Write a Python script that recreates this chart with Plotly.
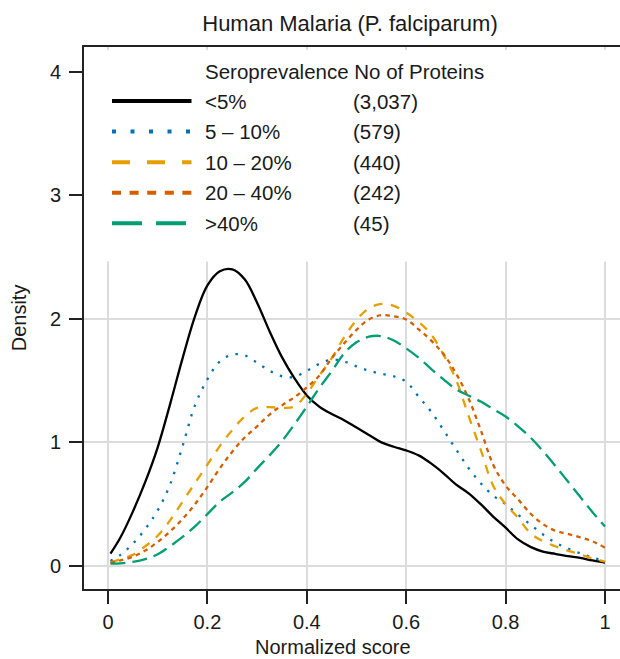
import plotly.graph_objects as go

# ---------------- data ----------------
x_scores = [0.005, 0.025, 0.05, 0.075, 0.1, 0.125, 0.15, 0.175, 0.2, 0.225,
            0.25, 0.275, 0.3, 0.325, 0.35, 0.375, 0.4, 0.425, 0.45, 0.475,
            0.5, 0.525, 0.55, 0.575, 0.6, 0.625, 0.65, 0.675, 0.7, 0.725,
            0.75, 0.775, 0.8, 0.825, 0.85, 0.875, 0.9, 0.925, 0.95, 0.975, 1.0]

density_lt5 = [0.10, 0.23, 0.44, 0.68, 0.96, 1.31, 1.68, 2.02, 2.27, 2.385,
               2.40, 2.32, 2.13, 1.90, 1.69, 1.52, 1.38, 1.29, 1.23, 1.18,
               1.12, 1.06, 1.00, 0.965, 0.935, 0.895, 0.83, 0.75, 0.66, 0.59,
               0.50, 0.40, 0.31, 0.215, 0.155, 0.117, 0.098, 0.08, 0.065, 0.045, 0.028]

density_5_10 = [0.04, 0.09, 0.18, 0.30, 0.45, 0.66, 0.97, 1.30, 1.51, 1.655,
                1.71, 1.705, 1.645, 1.58, 1.535, 1.53, 1.58, 1.635, 1.67, 1.655,
                1.615, 1.58, 1.555, 1.535, 1.49, 1.37, 1.25, 1.10, 0.945, 0.795,
                0.67, 0.57, 0.50, 0.415, 0.335, 0.256, 0.19, 0.143, 0.103, 0.068, 0.04]

density_10_20 = [0.03, 0.055, 0.09, 0.16, 0.245, 0.37, 0.52, 0.67, 0.82, 0.97,
                 1.10, 1.21, 1.28, 1.285, 1.28, 1.29, 1.395, 1.54, 1.68, 1.85,
                 1.99, 2.085, 2.12, 2.105, 2.05, 1.975, 1.875, 1.71, 1.51, 1.22,
                 0.94, 0.65, 0.50, 0.39, 0.265, 0.20, 0.16, 0.125, 0.095, 0.06, 0.035]

density_20_40 = [0.025, 0.045, 0.075, 0.125, 0.195, 0.28, 0.38, 0.50, 0.64, 0.79,
                 0.925, 1.04, 1.13, 1.225, 1.30, 1.365, 1.445, 1.54, 1.68, 1.80,
                 1.91, 1.995, 2.03, 2.02, 1.995, 1.915, 1.825, 1.715, 1.56, 1.36,
                 1.10, 0.82, 0.65, 0.54, 0.425, 0.34, 0.285, 0.26, 0.232, 0.20, 0.147]

density_gt40 = [0.02, 0.022, 0.033, 0.055, 0.095, 0.16, 0.235, 0.32, 0.42, 0.52,
                0.595, 0.68, 0.79, 0.895, 1.01, 1.145, 1.29, 1.44, 1.575, 1.72,
                1.81, 1.855, 1.86, 1.825, 1.76, 1.685, 1.595, 1.51, 1.43, 1.38,
                1.33, 1.27, 1.21, 1.13, 1.04, 0.93, 0.81, 0.685, 0.56, 0.435, 0.32]

groups = ["<5%", "5 \u2013 10%", "10 \u2013 20%", "20 \u2013 40%", ">40%"]
protein_counts = ["(3,037)", "(579)", "(440)", "(242)", "(45)"]
legend_header = "Seroprevalence No of Proteins"
series = [density_lt5, density_5_10, density_10_20, density_20_40, density_gt40]

x_tick_vals = [0, 0.2, 0.4, 0.6, 0.8, 1]
x_tick_text = ["0", "0.2", "0.4", "0.6", "0.8", "1"]
y_tick_vals = [0, 1, 2, 3, 4]

# ---------------- styling / layout ----------------
W, H = 620, 659
ML, MR, MT, MB = 84, 0, 47, 70
PW, PH = W - ML - MR, H - MT - MB

def px_x(px):
    return (px - ML) / PW

def px_y(py):
    return (H - MB - py) / PH

FONT = "Liberation Sans, Arial, Helvetica, sans-serif"
TXT = "#1a1a1a"
AX = "#222222"
GRID = "#dcdcdc"

colors = ["#000000", "#0072B2", "#E69F00", "#D55E00", "#009E73"]
plot_dash = ["solid", "2.4px,7.6px", "9px,8.5px", "4.5px,4.3px", "15px,7px"]
legend_dash = ["solid", "4px,14.5px", "18px,17px", "9px,8.6px", "30px,14px"]

fig = go.Figure()
for name, ys, c, d in zip(groups, series, colors, plot_dash):
    fig.add_trace(go.Scatter(
        x=x_scores, y=ys, mode="lines", name=name,
        line=dict(color=c, width=2.3, dash=d, shape="spline", smoothing=1.0),
        showlegend=False, hoverinfo="skip"))

shapes = []
# white box hiding the grid behind the legend
shapes.append(dict(type="rect", xref="paper", yref="y", x0=0, x1=1,
                   y0=2.464, y1=4.175, fillcolor="white", line=dict(width=0),
                   layer="above"))

annotations = []
row_y = [101, 131.5, 162.3, 192.7, 223.3]
header_y = 71.7
annotations.append(dict(text=legend_header, xref="paper", yref="paper",
                        x=px_x(202.5), y=px_y(header_y), xanchor="left",
                        yanchor="middle", showarrow=False,
                        font=dict(size=20.5, color=TXT, family=FONT)))
for name, cnt, c, d, ry in zip(groups, protein_counts, colors, legend_dash, row_y):
    shapes.append(dict(type="line", xref="paper", yref="paper",
                       x0=px_x(112), x1=px_x(191.5), y0=px_y(ry), y1=px_y(ry),
                       line=dict(color=c, width=4, dash=d), layer="above"))
    annotations.append(dict(text=name, xref="paper", yref="paper",
                            x=px_x(202.5), y=px_y(ry), xanchor="left",
                            yanchor="middle", showarrow=False,
                            font=dict(size=20.5, color=TXT, family=FONT)))
    annotations.append(dict(text=cnt, xref="paper", yref="paper",
                            x=px_x(351), y=px_y(ry), xanchor="left",
                            yanchor="middle", showarrow=False,
                            font=dict(size=20.5, color=TXT, family=FONT)))

# axis titles
annotations.append(dict(text="Normalized score", xref="paper", yref="paper",
                        x=px_x(332.5), y=px_y(647), xanchor="center",
                        yanchor="middle", showarrow=False,
                        font=dict(size=20, color=TXT, family=FONT)))
annotations.append(dict(text="Density", xref="paper", yref="paper",
                        x=px_x(19), y=px_y(318.3), xanchor="center",
                        yanchor="middle", textangle=-90, showarrow=False,
                        font=dict(size=20, color=TXT, family=FONT)))

fig.update_layout(
    template="none",
    width=W, height=H,
    margin=dict(l=ML, r=MR, t=MT, b=MB, pad=0, autoexpand=False),
    paper_bgcolor="white", plot_bgcolor="white",
    title=dict(text="Human Malaria (P. falciparum)", x=px_x(350), xref="paper",
               xanchor="center", y=1 - 23 / H, yref="container", yanchor="middle",
               font=dict(size=22, color=TXT, family=FONT)),
    font=dict(family=FONT, color=TXT, size=20),
    shapes=shapes, annotations=annotations,
    showlegend=False,
)

fig.update_xaxes(
    range=[(ML - 108) / 497, (W - 108) / 497],
    tickvals=x_tick_vals, ticktext=x_tick_text, automargin=False,
    showgrid=True, gridcolor=GRID, gridwidth=2, zeroline=False,
    showline=True, linecolor=AX, linewidth=2, mirror=True,
    ticks="outside", ticklen=13, tickwidth=2, tickcolor=AX,
    tickfont=dict(size=20, color=TXT, family=FONT),
    ticklabelstandoff=1,
)
fig.update_yaxes(
    range=[(566 - (H - MB)) / 123.6, (566 - MT) / 123.6],
    tickvals=y_tick_vals, automargin=False,
    showgrid=True, gridcolor=GRID, gridwidth=2, zeroline=False,
    showline=True, linecolor=AX, linewidth=2,
    ticks="outside", ticklen=13, tickwidth=2, tickcolor=AX,
    tickfont=dict(size=20, color=TXT, family=FONT),
    ticklabelstandoff=4,
)

fig.write_html("out.html")
